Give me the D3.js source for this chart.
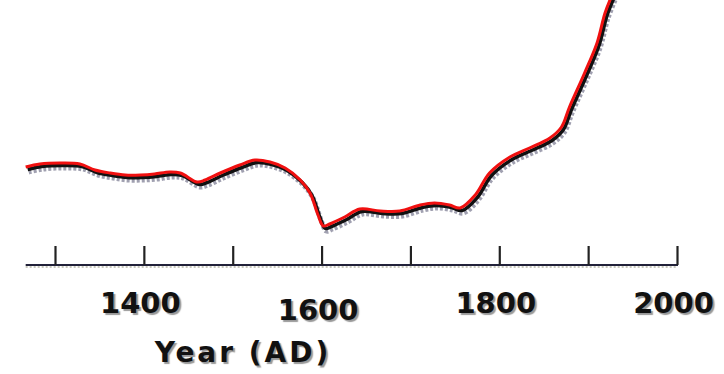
<!DOCTYPE html>
<html>
<head>
<meta charset="utf-8">
<script src="https://cdn.jsdelivr.net/npm/d3@7"></script>
<style>
  body { margin: 0; background: #fff; }
  svg { display: block; }
</style>
</head>
<body>
<svg id="vis"></svg>
<script>
// reconstructed temperature curve (arbitrary anomaly units)
var years = [1267, 1283, 1306, 1328, 1345, 1362, 1379, 1396, 1412, 1429, 1441, 1460, 1469, 1486,
	1508, 1525, 1542, 1559, 1576, 1587, 1596, 1602, 1609, 1626, 1643, 1666, 1688, 1711, 1727,
	1744, 1756, 1773, 1789, 1812, 1834, 1857, 1870, 1879, 1896, 1910, 1919, 1927];
var values = [0.33, 0.36, 0.37, 0.36, 0.30, 0.27, 0.25, 0.25, 0.26, 0.28, 0.27, 0.18, 0.20, 0.27,
	0.35, 0.40, 0.38, 0.32, 0.20, 0.07, -0.15, -0.26, -0.24, -0.17, -0.09, -0.11, -0.11, -0.05, -0.03,
	-0.05, -0.08, 0.05, 0.27, 0.43, 0.52, 0.62, 0.73, 0.93, 1.27, 1.57, 1.87, 2.05];
var tickYears = [1300, 1400, 1500, 1600, 1700, 1800, 1900, 2000];
var labelYears = [1400, 1600, 1800, 2000];
var xTitle = "Year (AD)";

var width = 724, height = 374;
var svg = d3.select("svg#vis")
	.attr("width", width)
	.attr("height", height);

svg.append("rect")
	.attr("width", width)
	.attr("height", height)
	.attr("fill", "#ffffff");

var data = years.map(function(y, i) { return {year: y, value: values[i]}; });

// x: 1300 -> 55px, 2000 -> 677px
var xScale = d3.scaleLinear()
	.domain([1300, 2000])
	.range([55, 677]);

var yScale = d3.scaleLinear()
	.domain([-0.65, 2.0])
	.range([265, 0]);

var line = d3.line()
	.x(function(d) { return xScale(d.year); })
	.y(function(d) { return yScale(d.value); })
	.curve(d3.curveCatmullRom.alpha(0.5));

// shadow under the curve (grey dither + black)
svg.append("path")
	.datum(data)
	.attr("d", line)
	.attr("transform", "translate(3,5)")
	.attr("fill", "none")
	.attr("stroke", "#a0a0b0")
	.attr("stroke-width", 5)
	.attr("stroke-dasharray", "3,2");

svg.append("path")
	.datum(data)
	.attr("d", line)
	.attr("transform", "translate(2,2.5)")
	.attr("fill", "none")
	.attr("stroke", "#111")
	.attr("stroke-width", 3.5);

svg.append("path")
	.datum(data)
	.attr("d", line)
	.attr("fill", "none")
	.attr("stroke", "#f01010")
	.attr("stroke-width", 3)
	.attr("stroke-linejoin", "round");

// x axis
var axisY = 265;
var axis = svg.append("g")
	.attr("class", "xAxis")
	.attr("transform", "translate(0," + axisY + ")")
	.call(d3.axisBottom(xScale)
		.tickValues(tickYears)
		.tickSizeInner(-19)
		.tickSizeOuter(0)
		.tickPadding(27)
		.tickFormat(function(d) { return labelYears.indexOf(d) >= 0 ? d : ""; }));

axis.select(".domain").remove();

axis.insert("line", ":first-child")
	.attr("x1", xScale(1267))
	.attr("x2", xScale(2000) + 1)
	.attr("y1", 0)
	.attr("y2", 0)
	.attr("stroke", "#22223a")
	.attr("stroke-width", 2);

axis.append("line")
	.attr("x1", xScale(1267))
	.attr("x2", xScale(2000))
	.attr("y1", 2)
	.attr("y2", 2)
	.attr("stroke", "#b8b8a8")
	.attr("stroke-width", 1.5)
	.attr("stroke-dasharray", "2,2");

axis.selectAll(".tick line")
	.attr("stroke", "#222")
	.attr("stroke-width", 2.2);

axis.selectAll(".tick text")
	.attr("fill", "#111")
	.attr("dx", -4)
	.style("font-family", "DejaVu Sans, sans-serif")
	.style("font-weight", "bold")
	.style("font-size", "29px")
	.style("text-shadow", "2px 2px 1px #999");

// 1600 label sits a little lower in the original
axis.selectAll(".tick text")
	.filter(function(d) { return d === 1600; })
	.attr("dy", "0.95em");

svg.append("text")
	.text(xTitle)
	.attr("x", 243)
	.attr("y", 362)
	.attr("text-anchor", "middle")
	.attr("fill", "#111")
	.style("font-family", "DejaVu Sans, sans-serif")
	.style("font-weight", "bold")
	.style("font-size", "28px")
	.style("letter-spacing", "3px")
	.style("text-shadow", "2px 2px 1px #999");
</script>
</body>
</html>
